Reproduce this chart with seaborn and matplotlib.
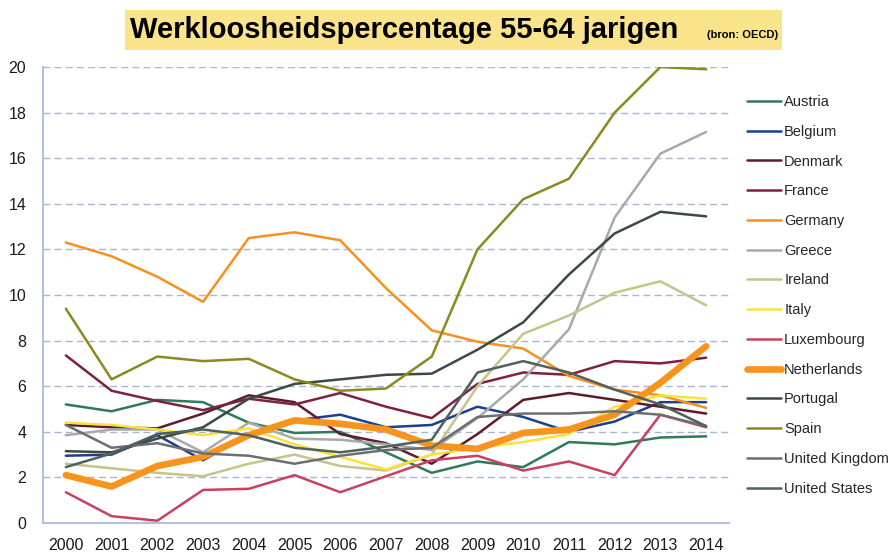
import matplotlib

matplotlib.use("Agg")
import matplotlib.pyplot as plt
import numpy as np
import pandas as pd
import seaborn as sns
from matplotlib import font_manager
from matplotlib.patches import Rectangle

years = list(range(2000, 2015))

austria = [5.2, 4.9, 5.4, 5.3, 4.4, 3.95, 4.0, 3.1, 2.2, 2.7, 2.45, 3.55, 3.45, 3.75, 3.8]
belgium = [2.95, 3.0, 3.85, 2.75, 3.9, 4.5, 4.75, 4.2, 4.3, 5.1, 4.65, 4.0, 4.45, 5.3, 5.3]
denmark = [4.3, 4.2, 4.15, 4.8, 5.6, 5.3, 3.9, 3.5, 2.6, 3.9, 5.4, 5.7, 5.4, 5.1, 4.8]
france = [7.35, 5.8, 5.35, 4.95, 5.45, 5.2, 5.7, 5.1, 4.6, 6.1, 6.6, 6.5, 7.1, 7.0, 7.25]
germany = [12.3, 11.7, 10.8, 9.7, 12.5, 12.75, 12.4, 10.3, 8.45, 7.95, 7.65, 6.45, 5.85, 5.6, 5.05]
greece = [3.85, 4.1, 4.1, 3.1, 4.4, 3.7, 3.65, 3.45, 3.2, 4.6, 6.3, 8.5, 13.4, 16.2, 17.15]
ireland = [2.6, 2.4, 2.2, 2.05, 2.6, 3.0, 2.5, 2.3, 3.0, 6.0, 8.3, 9.1, 10.1, 10.6, 9.55]
italy = [4.4, 4.3, 4.1, 3.85, 4.15, 3.45, 2.9, 2.35, 3.0, 3.3, 3.55, 3.9, 5.1, 5.6, 5.45]
luxembourg = [1.35, 0.3, 0.1, 1.45, 1.5, 2.1, 1.35, 2.05, 2.75, 2.95, 2.3, 2.7, 2.1, 4.75, 4.2]
netherlands = [2.1, 1.6, 2.5, 2.9, 3.85, 4.5, 4.35, 4.1, 3.4, 3.25, 3.95, 4.1, 4.75, 6.15, 7.75]
portugal = [3.15, 3.1, 3.7, 4.2, 5.45, 6.1, 6.3, 6.5, 6.55, 7.6, 8.8, 10.9, 12.7, 13.65, 13.45]
spain = [9.4, 6.3, 7.3, 7.1, 7.2, 6.3, 5.8, 5.9, 7.3, 12.0, 14.2, 15.1, 18.0, 20.0, 19.9]
uk = [4.3, 3.3, 3.5, 3.05, 2.95, 2.6, 2.95, 3.2, 3.3, 4.65, 4.8, 4.8, 4.9, 4.75, 4.25]
us = [2.45, 3.05, 3.9, 4.1, 3.85, 3.3, 3.1, 3.35, 3.65, 6.6, 7.1, 6.6, 5.85, 5.2, 4.25]

countries = ["Austria", "Belgium", "Denmark", "France", "Germany", "Greece", "Ireland",
             "Italy", "Luxembourg", "Netherlands", "Portugal", "Spain",
             "United Kingdom", "United States"]
series = [austria, belgium, denmark, france, germany, greece, ireland,
          italy, luxembourg, netherlands, portugal, spain, uk, us]
colors = ["#2e7b59", "#1c3f8e", "#5e1b2c", "#7e2140", "#f7901e", "#a7a9ac", "#c4c48b",
          "#fde03c", "#c9415f", "#f7941d", "#3c4a43", "#8a8a20", "#6d6e70", "#50605b"]

df = pd.DataFrame(
    {
        "year": np.tile(years, len(countries)),
        "value": np.concatenate(series),
        "country": np.repeat(countries, len(years)),
    }
)

sns.set_style("white")
plt.rcParams["font.family"] = ["Liberation Sans", "DejaVu Sans"]

# condensed bold title if the narrow face is around
installed = {f.name for f in font_manager.fontManager.ttflist}
if "Liberation Sans Narrow" in installed:
    title_family, title_size = ["Liberation Sans Narrow", "Liberation Sans"], 24
else:
    title_family, title_size = ["Liberation Sans", "DejaVu Sans"], 21

fig = plt.figure(figsize=(8.92, 5.52), dpi=100)
ax = fig.add_axes([43 / 892, 1 - 523 / 552, (729 - 43) / 892, 456 / 552])

for name, color in zip(countries, colors):
    sub = df[df["country"] == name]
    lw = 4.8 if name == "Netherlands" else 1.8
    sns.lineplot(data=sub, x="year", y="value", color=color, linewidth=lw,
                 label=name, ax=ax, legend=False)

ax.set_xlim(1999.5, 2014.5)
ax.set_ylim(0, 20)
ax.set_yticks(range(0, 21, 2))
ax.set_xticks(years)
ax.set_xticks(np.arange(1999.5, 2015, 1), minor=True)
ax.tick_params(axis="x", which="major", length=0, pad=11, labelsize=11.5, colors="#1a1a1a")
ax.tick_params(axis="x", which="minor", length=5, color="#b3bfdc", width=1)
ax.tick_params(axis="y", length=0, pad=12, labelsize=11.5, colors="#1a1a1a")
ax.set_xlabel("")
ax.set_ylabel("")
for y in range(2, 21, 2):
    ax.axhline(y, color="#a9b5d3", linestyle=(0, (5, 3)), linewidth=1.0, zorder=0)
for side in ["top", "right"]:
    ax.spines[side].set_visible(False)
for side in ["left", "bottom"]:
    ax.spines[side].set_color("#b3bfdc")
    ax.spines[side].set_linewidth(1.5)

handles, labels = ax.get_legend_handles_labels()
fig.legend(handles, labels, loc="upper left", bbox_to_anchor=(747 / 892, 1 - 95 / 552),
           frameon=False, fontsize=10.5, handlelength=2.35, handletextpad=0.2,
           labelspacing=1.08, borderaxespad=0, borderpad=0)

fig.patches.append(Rectangle((125 / 892, 1 - 50 / 552), 657 / 892, 40 / 552,
                             transform=fig.transFigure, facecolor="#f9e48c",
                             edgecolor="none", zorder=0))
fig.text(130 / 892, 1 - 30 / 552, "Werkloosheidspercentage 55-64 jarigen",
         fontsize=title_size, fontweight="bold", va="center", ha="left",
         color="black", family=title_family)
fig.text(778 / 892, 1 - 38 / 552, "(bron: OECD)", fontsize=8, fontweight="bold",
         va="baseline", ha="right", color="black", family=title_family)

fig.savefig("out.png", dpi=100)
